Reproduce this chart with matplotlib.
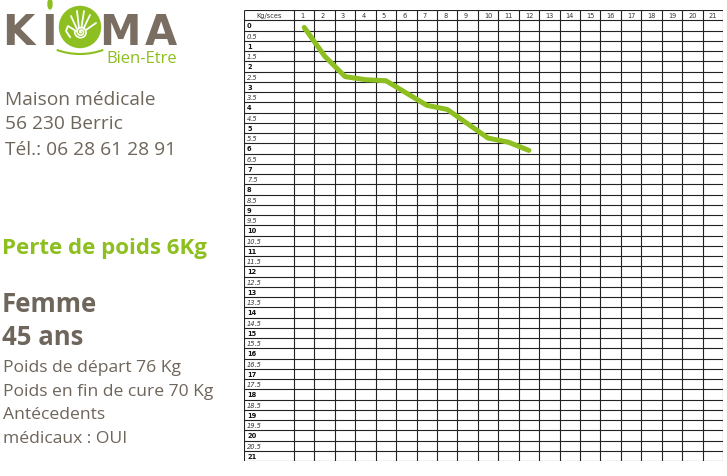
import numpy as np
import matplotlib
matplotlib.use('Agg')
import matplotlib.pyplot as plt
from matplotlib.patches import Circle, Ellipse, Arc

# Data
sessions = np.arange(1, 13)
kg_lost = [0.1, 1.5, 2.5, 2.65, 2.7, 3.3, 3.9, 4.1, 4.8, 5.5, 5.7, 6.1]
col_labels = [str(i) for i in range(1, 22)]
row_values = np.arange(0, 21.5, 0.5)

brown = '#6e655b'
logo_brown = '#7a6e62'
green = '#8cbf1f'

W, H = 727, 477
fig = plt.figure(figsize=(W / 100, H / 100), dpi=100)

# table area (pixel box of the grid)
left, right, top, bottom = 244, 723, 11, 462
ax = fig.add_axes([left / W, 1 - bottom / H, (right - left) / W, (bottom - top) / H])
x0 = 0.5 - 50 / ((right - 294) / 21)
ax.set_xlim(x0, 21.5)
ax.set_ylim(21.25, -0.75)
ax.axis('off')

# grid lines
ax.vlines([x0] + list(np.arange(0.5, 22, 1)), -0.75, 21.25, color='#222222', lw=0.8)
ax.hlines(np.arange(-0.75, 21.5, 0.5), x0, 21.5, color='#222222', lw=0.8)

# header
ax.text((x0 + 0.5) / 2, -0.5, 'Kg/sces', ha='center', va='center', fontsize=4.8,
        family='DejaVu Sans', color='#333333')
for i, lab in enumerate(col_labels):
    ax.text(i + 0.5 + 0.3, -0.5, lab, ha='left', va='center', fontsize=4.8,
            family='DejaVu Sans', color='#333333')

# row labels
for v in row_values:
    if v == int(v):
        ax.text(x0 + 0.15, v, str(int(v)), ha='left', va='center', fontsize=4.8,
                fontweight='bold', color='#111111')
    else:
        ax.text(x0 + 0.15, v, str(v), ha='left', va='center', fontsize=4.8,
                style='italic', color='#333333')

# weight loss curve
ax.plot(sessions, kg_lost, color=green, lw=3.6, solid_capstyle='round',
        solid_joinstyle='round')

# left panel
tx = fig.add_axes([0, 0, 1, 1])
tx.set_xlim(0, W)
tx.set_ylim(H, 0)
tx.axis('off')

# logo
for letter, lx in [('K', 2), ('I', 41), ('M', 99), ('A', 145)]:
    tx.text(lx, 45, letter, fontsize=30, fontweight='bold', color=logo_brown,
            family='DejaVu Sans', va='baseline')
tx.add_patch(Circle((80, 28), 20.5, color=green))
tx.add_patch(Ellipse((50, 5), 4, 10, color=green))
tx.add_patch(Arc((80, -13), 136, 136, theta1=70, theta2=110, color=green, lw=1.5))
# hand: fingers + spiral palm
for fx, fy in [(71, 17), (77, 12), (84, 12), (90, 16), (96, 24)]:
    tx.plot([fx * 0.35 + 80 * 0.65, fx], [fy * 0.2 + 33 * 0.8, fy], color='white',
            lw=1.3, solid_capstyle='round')
tx.plot([70, 66, 68, 76], [38, 32, 27, 32], color='white', lw=1.3)
t = np.linspace(0, 5 * np.pi, 200)
r = 1.1 * t / (2 * np.pi) * 2.3
tx.plot(81 + r * np.cos(t), 33 + r * np.sin(t), color='white', lw=1.2)
tx.text(106, 63, 'Bien-Etre', fontsize=12, color=green, family='Open Sans',
        va='baseline')

contact = ['Maison médicale', '56 230 Berric', 'Tél.: 06 28 61 28 91']
for k, line in enumerate(contact):
    tx.text(5, [105, 129, 155][k], line, fontsize=13.8, color=brown, family='Open Sans',
            va='baseline')

tx.text(2, 254, 'Perte de poids 6Kg', fontsize=16, fontweight='bold', color=green,
        family='Open Sans', va='baseline')
tx.text(2, 312, 'Femme', fontsize=18.5, fontweight='bold', color=brown, family='Open Sans',
        va='baseline')
tx.text(2, 345, '45 ans', fontsize=18.5, fontweight='bold', color=brown, family='Open Sans',
        va='baseline')
info = ['Poids de départ 76 Kg', 'Poids en fin de cure 70 Kg', 'Antécedents',
        'médicaux : OUI']
for k, line in enumerate(info):
    tx.text(3, 372 + k * 23.7, line, fontsize=12.6, color=brown, family='Open Sans',
            va='baseline')

fig.savefig('out.png', dpi=100)
